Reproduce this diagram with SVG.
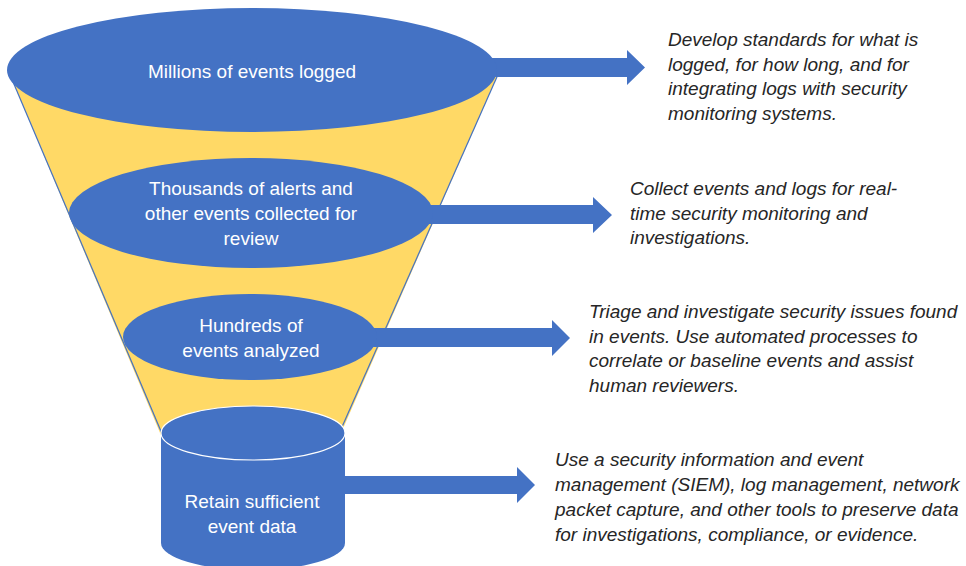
<svg xmlns="http://www.w3.org/2000/svg" width="966" height="566" viewBox="0 0 966 566">
<style>
.node{fill:#4472C4}
.lbl{font-family:"Liberation Sans",Arial,sans-serif;font-size:19px;fill:#FFFFFF;text-anchor:middle}
.desc{font-family:"Liberation Sans",Arial,sans-serif;font-size:19px;font-style:italic;fill:#262626}
.arrow{fill:#4472C4}
.edge{stroke:#4472C4;stroke-width:1.2;fill:none}
</style>
<rect width="966" height="566" fill="#FFFFFF"/>
<g id="funnel">
<polygon points="8,70 500,70 338,440 163,440" fill="#FFD966"/>
<line class="edge" x1="8" y1="70" x2="163" y2="436"/>
<line class="edge" x1="500" y1="70" x2="338" y2="436"/>
</g>
<g id="connectors">
<polygon class="arrow" points="480,58 627,58 627,50 645,67.5 627,85 627,77 480,77"/>
<polygon class="arrow" points="420,205 593,205 593,197 612,215 593,233 593,224 420,224"/>
<polygon class="arrow" points="365,328 552,328 552,320 570,338 552,356 552,347 365,347"/>
<polygon class="arrow" points="340,476 517,476 517,467 535,485 517,503 517,494 340,494"/>
</g>
<g id="node-millions">
<ellipse class="node" cx="252" cy="70" rx="245" ry="62"/>
<text class="lbl" x="252" y="78">Millions of events logged</text>
</g>
<g id="node-thousands">
<ellipse class="node" cx="251" cy="213" rx="182" ry="55"/>
<text class="lbl" x="251" y="195">Thousands of alerts and</text>
<text class="lbl" x="251" y="220">other events collected for</text>
<text class="lbl" x="251" y="245">review</text>
</g>
<g id="node-hundreds">
<ellipse class="node" cx="250" cy="337" rx="127" ry="43"/>
<text class="lbl" x="251" y="332">Hundreds of</text>
<text class="lbl" x="251" y="357">events analyzed</text>
</g>
<g id="node-retain">
<path class="node" d="M161,433 L161,543 A92,27 0 0 0 345,543 L345,433 Z"/>
<ellipse class="node" cx="253" cy="433" rx="92" ry="27" stroke="#FFFFFF" stroke-width="1.2"/>
<text class="lbl" x="252" y="508">Retain sufficient</text>
<text class="lbl" x="252" y="533">event data</text>
</g>
<g id="desc-1">
<text class="desc" x="668" y="46">Develop standards for what is</text>
<text class="desc" x="668" y="70.5">logged, for how long, and for</text>
<text class="desc" x="668" y="95">integrating logs with security</text>
<text class="desc" x="668" y="119.5">monitoring systems.</text>
</g>
<g id="desc-2">
<text class="desc" x="630" y="195">Collect events and logs for real-</text>
<text class="desc" x="630" y="219.5">time security monitoring and</text>
<text class="desc" x="630" y="244">investigations.</text>
</g>
<g id="desc-3">
<text class="desc" x="589" y="318">Triage and investigate security issues found</text>
<text class="desc" x="589" y="342.5">in events. Use automated processes to</text>
<text class="desc" x="589" y="367">correlate or baseline events and assist</text>
<text class="desc" x="589" y="391.5">human reviewers.</text>
</g>
<g id="desc-4">
<text class="desc" x="555" y="466">Use a security information and event</text>
<text class="desc" x="555" y="491">management (SIEM), log management, network</text>
<text class="desc" x="555" y="516">packet capture, and other tools to preserve data</text>
<text class="desc" x="555" y="541">for investigations, compliance, or evidence.</text>
</g>
</svg>
